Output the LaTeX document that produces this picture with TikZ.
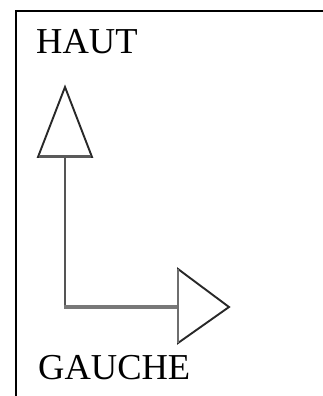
\documentclass[tikz,border=0pt]{standalone}
\usepackage{fontspec}
\setmainfont{Liberation Serif}
\definecolor{legdark}{RGB}{85,85,85}
\definecolor{legmid}{RGB}{120,120,120}
\definecolor{headedge}{RGB}{40,40,40}
\definecolor{basegray}{RGB}{90,90,90}
\definecolor{basemid}{RGB}{110,110,110}
\begin{document}
\begin{tikzpicture}[x=1pt,y=-1pt,
  frameline/.style={line width=1.7pt,black},
  headline/.style={line width=1.9pt,draw=headedge,fill=white,line join=miter},
  label/.style={font=\fontsize{36.5}{40}\selectfont,inner sep=0pt,anchor=base west}]
  \useasboundingbox (0,0) rectangle (323,396);
  % open frame: left side and top only
  \draw[frameline] (16,396) -- (16,11) -- (323,11);
  % labels
  \node[label] (haut) at (36,54) {HAUT};
  \node[label] (gauche) at (38,379) {GAUCHE};
  % key points of the bent connector
  \coordinate (upbase) at (65,157);
  \coordinate (corner) at (65,307);
  \coordinate (rightbase) at (178,307);
  % connector: vertical leg and thicker horizontal leg
  \draw[line width=2.3pt,legdark] (upbase) -- (corner);
  \draw[line width=4pt,legmid] ([xshift=-1.15pt]corner) -- (rightbase);
  % upward open triangle head
  \draw[headline] (65,87) -- (92,157) -- (38,157) -- cycle;
  \draw[line width=2.5pt,basegray] (39,156.5) -- (91,156.5);
  % rightward open triangle head
  \draw[headline] (229,307) -- (178,343) -- (178,269) -- cycle;
  \draw[line width=2.3pt,basemid] (178,269) -- (178,343);
\end{tikzpicture}
\end{document}
